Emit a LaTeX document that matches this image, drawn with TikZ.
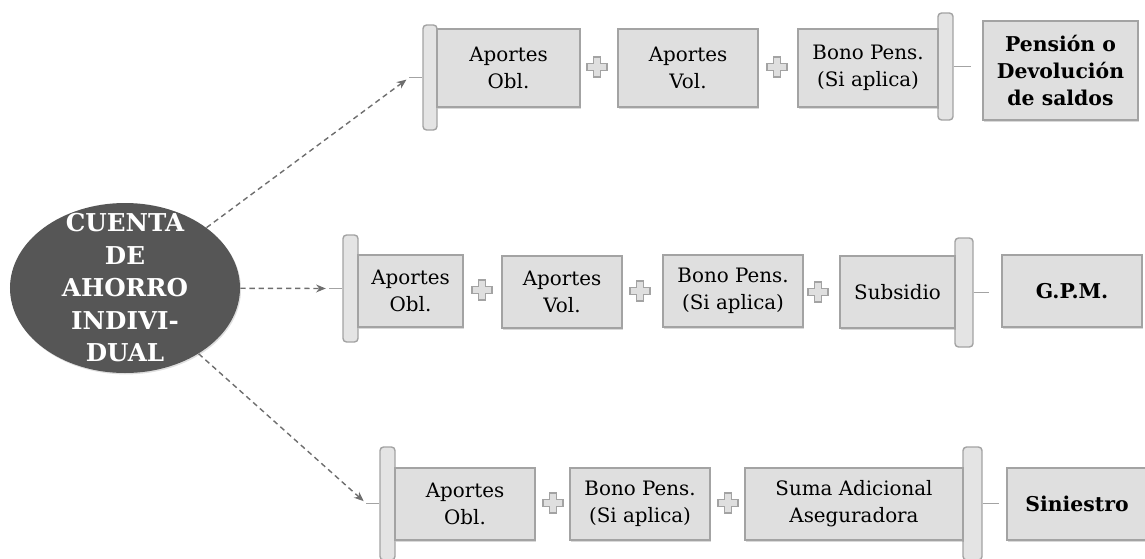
\documentclass[tikz,border=0pt]{standalone}
\usepackage{fontspec}
\setmainfont{DejaVu Serif}
\usepackage{xcolor}
\usetikzlibrary{arrows.meta, shapes.geometric, shadows}

\definecolor{grisfondo}{HTML}{DFDFDF}
\definecolor{grisborde}{HTML}{A3A3A3}
\definecolor{grisoscuro}{HTML}{565656}
\definecolor{grislinea}{HTML}{6E6E6E}

\tikzset{
  caja/.style={draw=grisborde, fill=grisfondo, line width=0.8pt, align=center,
    inner sep=2pt, font=\fontsize{11.3}{15.5}\selectfont,
    drop shadow={opacity=0.3, shadow xshift=0.7pt, shadow yshift=-0.9pt}},
  resultado/.style={caja, font=\fontsize{11.6}{15.5}\selectfont\bfseries},
  llave/.style={draw=grisborde, fill=grisfondo!85!white, line width=0.8pt,
    rounded corners=2pt, inner sep=0pt},
  pico/.style={draw=grisborde, line width=0.9pt},
  flecha/.style={draw=grislinea, line width=0.8pt, dash pattern=on 3pt off 2.2pt,
    -{Stealth[length=5.5pt, width=4.5pt]}, shorten >=2pt},
  mas/.pic={
    \filldraw[fill=grisfondo, draw=grisborde, line width=0.8pt]
      (-10,-3.5) -- (-3.5,-3.5) -- (-3.5,-10) -- (3.5,-10) -- (3.5,-3.5)
      -- (10,-3.5) -- (10,3.5) -- (3.5,3.5) -- (3.5,10) -- (-3.5,10)
      -- (-3.5,3.5) -- (-10,3.5) -- cycle;
  }
}

\begin{document}
\begin{tikzpicture}[x=0.2mm, y=-0.2mm]
  \useasboundingbox (0,0) rectangle (1145,558);
  % cuenta
  \node[ellipse, fill=grisoscuro, text=white, align=center,
        inner xsep=0pt, inner ysep=-13pt,
        minimum width=46mm, minimum height=34mm,
        font=\fontsize{14}{18.5}\selectfont\bfseries,
        drop shadow={opacity=0.25, shadow xshift=0.6pt, shadow yshift=-0.8pt}]
    (cuenta) at (125,288) {CUENTA\\DE\\AHORRO\\INDIVI-\\DUAL};

  % fila 1
  \node[llave, minimum width=2.8mm, minimum height=21mm] (l1) at (430,77.5) {};
  \node[llave, minimum width=3mm, minimum height=21.4mm] (k1) at (945.5,66.5) {};
  \draw[pico] (l1.west) -- ++(-13,0) coordinate (t1);
  \draw[pico] (k1.east) -- ++(17,0) coordinate (s1);
  \node[caja, minimum width=28.6mm, minimum height=15.6mm] (a1) at (508.5,68) {Aportes\\Obl.};
  \node[caja, minimum width=28mm, minimum height=15.6mm] (a2) at (688,68) {Aportes\\Vol.};
  \node[caja, minimum width=28mm, minimum height=15.6mm] (a3) at (868,68) {Bono Pens.\\(Si aplica)};
  \node[resultado, minimum width=31mm, minimum height=19.8mm] (r1) at (1060.5,70.5) {Pensión o\\Devolución\\de saldos};
  \pic at (597,67) {mas};
  \pic at (777,67) {mas};

  % fila 2
  \node[llave, minimum width=3mm, minimum height=21.4mm] (l2) at (350.5,288.5) {};
  \node[llave, minimum width=3.6mm, minimum height=21.8mm] (k2) at (964,292.5) {};
  \draw[pico] (l2.west) -- ++(-13,0) coordinate (t2);
  \draw[pico] (k2.east) -- ++(15,0) coordinate (s2);
  \node[caja, minimum width=21mm, minimum height=14.4mm] (b1) at (410.5,291) {Aportes\\Obl.};
  \node[caja, minimum width=24mm, minimum height=14.4mm] (b2) at (562,292) {Aportes\\Vol.};
  \node[caja, minimum width=28mm, minimum height=14.4mm] (b3) at (733,291) {Bono Pens.\\(Si aplica)};
  \node[caja, minimum width=23mm, minimum height=14.4mm] (b4) at (897.5,292) {Subsidio};
  \node[resultado, minimum width=28mm, minimum height=14.4mm] (r2) at (1072,291) {G.P.M.};
  \pic at (482,290) {mas};
  \pic at (640,291) {mas};
  \pic at (818,292) {mas};

  % fila 3
  \node[llave, minimum width=3mm, minimum height=22.6mm] (l3) at (387.5,503.5) {};
  \node[llave, minimum width=3.8mm, minimum height=22.6mm] (k3) at (972.5,503.5) {};
  \draw[pico] (l3.west) -- ++(-13,0) coordinate (t3);
  \draw[pico] (k3.east) -- ++(16,0) coordinate (s3);
  \node[caja, minimum width=28mm, minimum height=14.4mm] (c1) at (465,504) {Aportes\\Obl.};
  \node[caja, minimum width=28mm, minimum height=14.4mm] (c2) at (640,504) {Bono Pens.\\(Si aplica)};
  \node[caja, minimum width=43.6mm, minimum height=14.4mm] (c3) at (854,504) {Suma Adicional\\Aseguradora};
  \node[resultado, minimum width=28mm, minimum height=14.4mm] (r3) at (1077,504) {Siniestro};
  \pic at (553,503) {mas};
  \pic at (728,503) {mas};

  % flechas
  \draw[flecha] (cuenta) -- (t1);
  \draw[flecha] (cuenta) -- (t2);
  \draw[flecha] (cuenta) -- (t3);
\end{tikzpicture}
\end{document}
